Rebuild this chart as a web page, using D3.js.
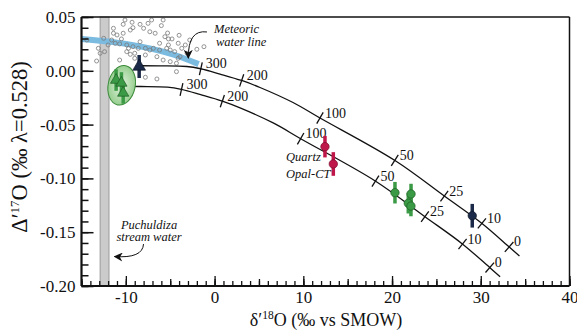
<!DOCTYPE html>
<html><head><meta charset="utf-8">
<script src="https://cdn.jsdelivr.net/npm/d3@7"></script>
</head>
<body style="margin:0;background:#fff">
<svg id="c" width="577" height="331" style="display:block"></svg>
<script>
// ---------- data ----------
const xTickValues = [-10, 0, 10, 20, 30, 40];
const xTickLabels = ["-10", "0", "10", "20", "30", "40"];
const yTickValues = [0.05, 0, -0.05, -0.10, -0.15, -0.20];
const yTickLabels = ["0.05", "0.00", "-0.05", "-0.10", "-0.15", "-0.20"];

// stream water band (delta'18O range)
const streamBand = [-12.9, -11.9];

// meteoric water line
const mwlX = [-15, -11, -7.3, -4.5, -1.8];
const mwlY = [0.0296, 0.0262, 0.0209, 0.0147, 0.0062];

// meteoric water samples (small open circles)
const sampleX = [-11.4,-10.3,-9.3,-8.4,-7.1,-9.5,-9.2,-8.0,-7.3,-10.3,-11.0,-12.5,-11.6,-10.5,-11.2,-9.9,-9.2,-9.7,-8.6,-7.8,-7.3,-13.1,-12.4,-9.9,-9.5,-9.0,-14.4,-12.9,-10.7,-9.0,-7.8,-13.3,-5.8,-6.7,-5.6,-5.2,-4.8,-6.2,-5.2,-4.1,-3.3,-3.7,-6.9,-6.2,-5.4,-5.0,-4.5,-3.9,-4.1,-6.5,-5.8,-5.0,-4.3,-2.8,-6.5,-4.3,-7.8,-5.3,-2.0,-1.2,-3.1,-10.1,-7.5,-11.4,-10.7,-8.4,-12.0,-6.0,-4.0];
const sampleY = [0.0395,0.0432,0.0451,0.0432,0.0472,0.0379,0.0401,0.0395,0.0363,0.0349,0.0333,0.0302,0.0286,0.0296,0.0256,0.0240,0.0224,0.0209,0.0209,0.0209,0.0193,0.0209,0.0178,0.0178,0.0153,0.0163,0.0286,0.0163,0.0100,0.0116,0.0147,0.0091,0.0472,0.0349,0.0317,0.0296,0.0296,0.0256,0.0240,0.0256,0.0240,0.0209,0.0209,0.0193,0.0209,0.0193,0.0178,0.0131,0.0116,0.0131,0.0100,0.0085,0.0070,0.0286,-0.0076,-0.0008,-0.0060,0.0351,0.0200,0.0224,0.0163,0.0472,0.0441,0.0349,0.0250,0.0270,0.0240,0.0420,0.0330];

// equilibrium curves
const upperCurveX = [-8.29,-6.15,-3.14,-1.57,0.61,3.05,5.12,8.84,11.88,20.33,25.89,30.14,33.21,34.36];
const upperCurveY = [0.0047,0.0046,0.0040,0.0019,-0.0030,-0.0090,-0.0155,-0.0295,-0.0439,-0.0834,-0.1164,-0.1419,-0.1638,-0.1721];
const lowerCurveX = [-10.47,-8.33,-5.32,-3.75,-1.57,0.87,2.94,6.66,9.70,18.15,23.71,27.96,31.03,32.18];
const lowerCurveY = [-0.0145,-0.0146,-0.0152,-0.0173,-0.0222,-0.0282,-0.0347,-0.0487,-0.0631,-0.1026,-0.1356,-0.1611,-0.1830,-0.1913];

// temperature ticks on curves
const curveTickLabels = ["300", "200", "100", "50", "25", "10", "0"];
const upperTickX = [-1.57, 3.05, 11.88, 20.33, 25.89, 30.14, 33.21];
const upperTickY = [0.0019, -0.0090, -0.0439, -0.0834, -0.1164, -0.1419, -0.1638];
const lowerTickX = [-3.75, 0.87, 9.70, 18.15, 23.71, 27.96, 31.03];
const lowerTickY = [-0.0173, -0.0282, -0.0631, -0.1026, -0.1356, -0.1611, -0.1830];

// measured samples
const navyTriX = [-8.5], navyTriY = [0.0040], navyTriErr = [0.0107];
const greenTriX = [-11.1, -10.5, -10.3], greenTriY = [-0.0086, -0.0113, -0.0206], greenTriErr = [0.010, 0.010, 0.010];
const ellipseCenter = [-10.47, -0.0135];
const redX = [12.44, 13.38], redY = [-0.0705, -0.0866], redErr = [0.010, 0.011];
const redNames = ["Quartz", "Opal-CT"];
const greenX = [20.33, 22.14, 21.83, 22.13], greenY = [-0.1133, -0.1145, -0.1231, -0.1257], greenErr = [0.010, 0.0095, 0.0095, 0.0095];
const navyX = [29.04], navyY = [-0.1347], navyErr = [0.011];

// ---------- chart ----------
const svg = d3.select("#c");
const x = d3.scaleLinear().domain([-15, 40]).range([81.5, 569.5]);
const y = d3.scaleLinear().domain([-0.20, 0.05]).range([286, 17]);
const FONT = "'Liberation Serif'";
const serif = sel => sel.style("font-family", FONT);

const defs = svg.append("defs");
defs.append("marker").attr("id", "ah").attr("viewBox", "0 0 10 10")
  .attr("refX", 9).attr("refY", 5).attr("markerWidth", 9).attr("markerHeight", 9)
  .attr("markerUnits", "userSpaceOnUse").attr("orient", "auto")
  .append("path").attr("d", "M0,0 L10,5 L0,10 L3,5 Z").attr("fill", "#111");
const rg = defs.append("radialGradient").attr("id", "eg").attr("cx", "50%").attr("cy", "50%").attr("r", "55%");
rg.append("stop").attr("offset", "0%").attr("stop-color", "#e3f3df");
rg.append("stop").attr("offset", "100%").attr("stop-color", "#8fcb88");

// stream water band
svg.append("rect")
  .attr("x", x(streamBand[0])).attr("width", x(streamBand[1]) - x(streamBand[0]))
  .attr("y", y(0.05)).attr("height", y(-0.20) - y(0.05))
  .attr("fill", "#cbcbcb").attr("stroke", "#9a9a9a").attr("stroke-width", 1);

// meteoric water line
const mwl = mwlX.map((v, i) => [v, mwlY[i]]);
svg.append("path").datum(mwl)
  .attr("d", d3.line().x(d => x(d[0])).y(d => y(d[1])).curve(d3.curveCatmullRom))
  .attr("fill", "none").attr("stroke", "#7cbbe0").attr("stroke-width", 6);

// sample circles
svg.append("g").selectAll("circle").data(sampleX.map((v, i) => [v, sampleY[i]])).join("circle")
  .attr("cx", d => x(d[0])).attr("cy", d => y(d[1])).attr("r", 2)
  .attr("fill", "none").attr("stroke", "#7a7a7a").attr("stroke-width", 0.8);

// curves
const lineGen = d3.line().x(d => x(d[0])).y(d => y(d[1])).curve(d3.curveCatmullRom);
function drawCurve(cx, cy, tx, ty) {
  const pts = cx.map((v, i) => [v, cy[i]]);
  const path = svg.append("path").datum(pts).attr("d", lineGen)
    .attr("fill", "none").attr("stroke", "#111").attr("stroke-width", 1.3);
  const node = path.node();
  const L = node.getTotalLength();
  const samples = d3.range(0, L, 0.5).map(l => { const p = node.getPointAtLength(l); return [p.x, p.y, l]; });
  tx.forEach((tv, i) => {
    const px = x(tv), py = y(ty[i]);
    let best = samples[0], bd = Infinity;
    samples.forEach(s => { const d = (s[0] - px) ** 2 + (s[1] - py) ** 2; if (d < bd) { bd = d; best = s; } });
    const a = node.getPointAtLength(Math.max(0, best[2] - 3)), b = node.getPointAtLength(Math.min(L, best[2] + 3));
    let dx = b.x - a.x, dy = b.y - a.y; const n = Math.hypot(dx, dy); dx /= n; dy /= n;
    let nx = dy, ny = -dx;
    if (ny > 0) { nx = -nx; ny = -ny; }
    const h = 6.5;
    svg.append("line").attr("x1", best[0] - nx * h).attr("y1", best[1] - ny * h)
      .attr("x2", best[0] + nx * h).attr("y2", best[1] + ny * h)
      .attr("stroke", "#111").attr("stroke-width", 1.3);
    svg.append("text").attr("x", best[0] + 5).attr("y", best[1] - 0.5)
      .attr("font-size", 14).attr("fill", "#111").call(serif).text(curveTickLabels[i]);
  });
}
drawCurve(upperCurveX, upperCurveY, upperTickX, upperTickY);
drawCurve(lowerCurveX, lowerCurveY, lowerTickX, lowerTickY);

// green ellipse
svg.append("ellipse")
  .attr("transform", `translate(${x(ellipseCenter[0])},${y(ellipseCenter[1])}) rotate(12)`)
  .attr("rx", 13.5).attr("ry", 20)
  .attr("fill", "url(#eg)").attr("stroke", "#3b8a3b").attr("stroke-width", 1);

// error bars + markers
function errBars(xs, ys, es, color) {
  svg.append("g").selectAll("line").data(xs.map((v, i) => [v, ys[i], es[i]])).join("line")
    .attr("x1", d => x(d[0])).attr("x2", d => x(d[0]))
    .attr("y1", d => y(d[1] + d[2])).attr("y2", d => y(d[1] - d[2]))
    .attr("stroke", color).attr("stroke-width", 3.5);
}
function circles(xs, ys, color, stroke) {
  svg.append("g").selectAll("circle").data(xs.map((v, i) => [v, ys[i]])).join("circle")
    .attr("cx", d => x(d[0])).attr("cy", d => y(d[1])).attr("r", 4.2)
    .attr("fill", color).attr("stroke", stroke).attr("stroke-width", 0.7);
}
function triangles(xs, ys, color, stroke, size) {
  svg.append("g").selectAll("path").data(xs.map((v, i) => [v, ys[i]])).join("path")
    .attr("transform", d => `translate(${x(d[0])},${y(d[1])})`)
    .attr("d", d3.symbol(d3.symbolTriangle, size))
    .attr("fill", color).attr("stroke", stroke).attr("stroke-width", 0.7);
}
errBars(greenTriX, greenTriY, greenTriErr, "#3a9a45");
triangles(greenTriX, greenTriY, "#3a9a45", "#1e5e25", 55);
errBars(navyTriX, navyTriY, navyTriErr, "#1b2a48");
triangles(navyTriX, navyTriY, "#1b2a48", "#0d1526", 70);
errBars(redX, redY, redErr, "#c0174b");
circles(redX, redY, "#c0174b", "#7a0d2e");
errBars(greenX, greenY, greenErr, "#3a9a45");
circles(greenX, greenY, "#3a9a45", "#1e5e25");
errBars(navyX, navyY, navyErr, "#1b2a48");
circles(navyX, navyY, "#1b2a48", "#0d1526");

// annotations
const italic = (t, xv, yv, anchor) => svg.append("text").attr("x", x(xv)).attr("y", y(yv))
  .attr("font-size", 12.5).style("font-style", "italic").call(serif).attr("fill", "#111")
  .attr("text-anchor", anchor || "start").text(t);
italic("Meteoric", -0.07, 0.0351);
italic("water line", 0.16, 0.0230);
italic("Puchuldiza", -7.39, -0.1466, "middle");
italic("stream water", -7.39, -0.1586, "middle");
italic(redNames[0], 8.05, -0.0838);
italic(redNames[1], 8.05, -0.0996);

function arrow(s, c, t) {
  const p = d3.path();
  p.moveTo(x(s[0]), y(s[1]));
  p.quadraticCurveTo(x(c[0]), y(c[1]), x(t[0]), y(t[1]));
  svg.append("path").attr("d", p.toString()).attr("fill", "none")
    .attr("stroke", "#111").attr("stroke-width", 1).attr("marker-end", "url(#ah)");
}
arrow([-0.86, 0.0361], [-3.0, 0.0385], [-2.96, 0.0119]);
arrow([-8.01, -0.1610], [-8.1, -0.1745], [-11.28, -0.1726]);

// axes
const ax = svg.append("g");
function xTicks(vals, len, labels) {
  const g = ax.append("g").attr("transform", `translate(0,${y(-0.20)})`)
    .call(d3.axisBottom(x).tickValues(vals).tickSize(-len).tickSizeOuter(0).tickPadding(5)
      .tickFormat(labels ? ((d, i) => labels[i]) : ""));
  g.attr("font-family", null).attr("font-size", null);
  g.select(".domain").remove();
  g.selectAll("line").attr("stroke", "#111").attr("stroke-width", 1.3);
  g.selectAll("text").attr("font-size", 17).call(serif).attr("fill", "#111");
}
xTicks(x.ticks(55), 5);
xTicks(x.ticks(11), 7);
xTicks(xTickValues, 10, xTickLabels);
function yTicks(vals, len, labels) {
  const g = ax.append("g").attr("transform", `translate(${x(-15)},0)`)
    .call(d3.axisLeft(y).tickValues(vals).tickSize(-len).tickSizeOuter(0).tickPadding(6)
      .tickFormat(labels ? ((d, i) => labels[i]) : ""));
  g.attr("font-family", null).attr("font-size", null);
  g.select(".domain").remove();
  g.selectAll("line").attr("stroke", "#111").attr("stroke-width", 1.5);
  g.selectAll("text").attr("font-size", 17).call(serif).attr("fill", "#111");
}
yTicks(y.ticks(25), 7);
yTicks(yTickValues, 12, yTickLabels);

// frame
svg.append("line").attr("x1", x(-15)).attr("x2", x(40)).attr("y1", y(0.05)).attr("y2", y(0.05)).attr("stroke", "#111").attr("stroke-width", 1.5);
svg.append("line").attr("x1", x(40)).attr("x2", x(40)).attr("y1", y(0.05)).attr("y2", y(-0.2)).attr("stroke", "#111").attr("stroke-width", 1.5);
svg.append("line").attr("x1", x(-15)).attr("x2", x(40)).attr("y1", y(-0.2)).attr("y2", y(-0.2)).attr("stroke", "#111").attr("stroke-width", 2.2);
svg.append("line").attr("x1", x(-15)).attr("x2", x(-15)).attr("y1", y(0.05)).attr("y2", y(-0.2)).attr("stroke", "#111").attr("stroke-width", 2.2);

// titles
const xt = svg.append("text").attr("x", 326).attr("y", 326).attr("text-anchor", "middle")
  .attr("font-size", 18).call(serif).attr("fill", "#111");
xt.append("tspan").text("δ′");
xt.append("tspan").attr("font-size", 11.5).attr("dy", -7).text("18");
xt.append("tspan").attr("dy", 7).text("O (‰ vs SMOW)");

const yt = svg.append("text").attr("transform", "translate(27,147) rotate(-90)").attr("text-anchor", "middle")
  .attr("font-size", 22.5).call(serif).attr("fill", "#111");
yt.append("tspan").text("Δ′");
yt.append("tspan").attr("font-size", 13).attr("dy", -8).text("17");
yt.append("tspan").attr("dy", 8).text("O (‰ λ=0.528)");
</script></body></html>
